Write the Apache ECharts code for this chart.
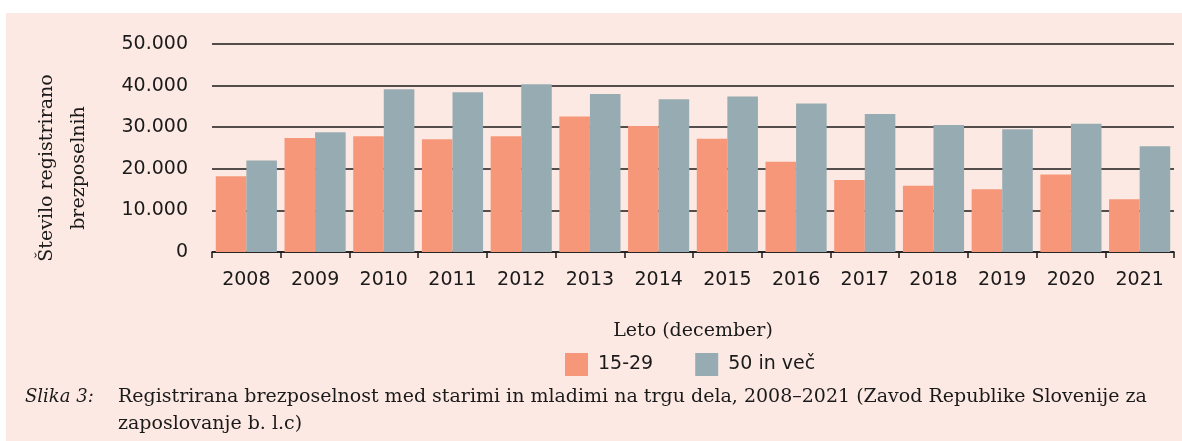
<!DOCTYPE html>
<html>
<head>
<meta charset="utf-8">
<script src="https://cdn.jsdelivr.net/npm/echarts@6/dist/echarts.min.js"></script>
<style>
  html, body { margin: 0; padding: 0; background: #ffffff; }
  #chart { width: 1182px; height: 441px; }
</style>
</head>
<body>
<div id="chart"></div>
<script>
// data
var years = ['2008','2009','2010','2011','2012','2013','2014','2015','2016','2017','2018','2019','2020','2021'];
var young = [18200, 27400, 27800, 27100, 27800, 32600, 30300, 27200, 21700, 17300, 15900, 15100, 18600, 12700];
var old = [22000, 28800, 39100, 38400, 40300, 38000, 36700, 37400, 35700, 33200, 30500, 29500, 30800, 25400];
var seriesNames = ['15-29', '50 in več'];
var yTicks = [0, 10000, 20000, 30000, 40000, 50000];

var serif = '"DejaVu Serif", "Liberation Serif", serif';
var sans = '"DejaVu Sans", "Noto Sans", sans-serif';

// 10000 -> 10.000
function fmt(v) {
  return String(v).replace(/\B(?=(\d{3})+(?!\d))/g, '.');
}

var option = {
  backgroundColor: '#ffffff',
  animation: false,
  color: ['#F7977A', '#97ACB2'],
  graphic: [
    {
      type: 'rect',
      z: -10,
      shape: { x: 6, y: 13, width: 1176, height: 428 },
      style: { fill: '#FDE9E3' }
    },
    {
      type: 'text',
      x: 63, y: 168,
      rotation: Math.PI / 2,
      style: {
        text: 'Število registrirano\nbrezposelnih',
        font: '19px ' + serif,
        fill: '#1a1a1a',
        align: 'center',
        verticalAlign: 'middle',
        lineHeight: 32
      }
    },
    {
      type: 'text',
      x: 25, y: 397,
      style: {
        text: 'Slika 3:',
        font: 'italic 18px ' + serif,
        fill: '#1a1a1a',
        verticalAlign: 'middle'
      }
    },
    {
      type: 'text',
      x: 118, y: 397,
      style: {
        text: 'Registrirana brezposelnost med starimi in mladimi na trgu dela, 2008–2021 (Zavod Republike Slovenije za',
        font: '19px ' + serif,
        fill: '#1a1a1a',
        verticalAlign: 'middle'
      }
    },
    {
      type: 'text',
      x: 118, y: 424,
      style: {
        text: 'zaposlovanje b. l.c)',
        font: '19px ' + serif,
        fill: '#1a1a1a',
        verticalAlign: 'middle'
      }
    }
  ],
  legend: {
    data: seriesNames,
    top: 348,
    left: 560,
    itemWidth: 23,
    itemHeight: 23,
    itemGap: 42,
    icon: 'rect',
    textStyle: { fontFamily: sans, fontSize: 19, color: '#1a1a1a', padding: [0, 0, 0, 5] }
  },
  grid: {
    left: 212,
    right: 8,
    top: 44,
    bottom: 189,
    containLabel: false
  },
  xAxis: {
    type: 'category',
    data: years,
    name: 'Leto (december)',
    nameLocation: 'middle',
    nameGap: 70,
    nameTextStyle: { fontFamily: serif, fontSize: 19, color: '#1a1a1a' },
    axisLine: { lineStyle: { color: '#1a1a1a', width: 1.5 } },
    axisTick: { show: true, length: 6, lineStyle: { color: '#1a1a1a', width: 1.5 } },
    axisLabel: { fontFamily: sans, fontSize: 19, color: '#1a1a1a', margin: 19 }
  },
  yAxis: {
    type: 'value',
    min: yTicks[0],
    max: yTicks[yTicks.length - 1],
    interval: 10000,
    axisLine: { show: false },
    axisTick: { show: false },
    axisLabel: {
      fontFamily: sans, fontSize: 19, color: '#1a1a1a', margin: 24,
      formatter: function (v) { return fmt(v); }
    },
    splitLine: { lineStyle: { color: '#1a1a1a', width: 1.5 } }
  },
  series: [
    {
      name: seriesNames[0],
      type: 'bar',
      data: young,
      barGap: 0,
      barCategoryGap: '11%'
    },
    {
      name: seriesNames[1],
      type: 'bar',
      data: old,
      barGap: 0,
      barCategoryGap: '11%'
    }
  ]
};

var chart = echarts.init(document.getElementById('chart'));
chart.setOption(option);
</script>
</body>
</html>
